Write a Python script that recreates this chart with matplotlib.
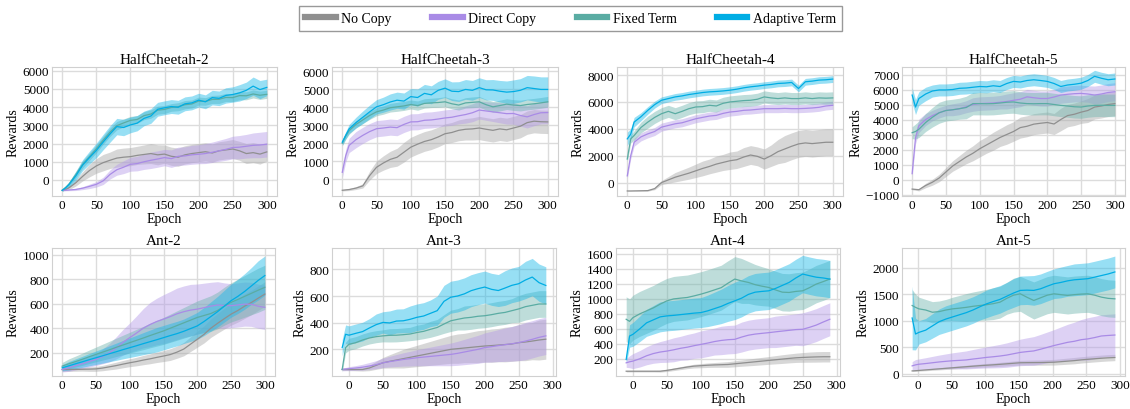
import matplotlib
matplotlib.use("Agg")
import matplotlib.pyplot as plt
from matplotlib.lines import Line2D
import numpy as np

plt.rcParams['font.family'] = ['Liberation Serif', 'DejaVu Serif']

methods = ["No Copy", "Direct Copy", "Fixed Term", "Adaptive Term"]
colors = ["#8f8f8f", "#a98be6", "#5aaca3", "#00ade4"]
band_colors = ["#a8a8a8", "#b49ae8", "#6fb5ad", "#1ab8e8"]

epochs = [0, 5, 10, 20, 30, 40, 50, 60, 70, 80, 90, 100, 110, 120, 130, 140, 150,
          160, 170, 180, 190, 200, 210, 220, 230, 240, 250, 260, 270, 280, 290, 300]

titles = ["HalfCheetah-2", "HalfCheetah-3", "HalfCheetah-4", "HalfCheetah-5",
          "Ant-2", "Ant-3", "Ant-4", "Ant-5"]
epoch_offsets = [0, 0, 0, 0, 0, -10, -10, -8]

# mean curves, order: No Copy, Direct Copy, Fixed Term, Adaptive Term
hc2_mean = [
    [-570, -520, -430, -150, 200, 520, 770, 950, 1080, 1200, 1250, 1280, 1350, 1400, 1450, 1380,
     1420, 1300, 1250, 1380, 1450, 1500, 1550, 1480, 1600, 1650, 1700, 1600, 1450, 1500, 1420, 1540],
    [-570, -565, -550, -520, -450, -350, -240, -50, 300, 560, 700, 860, 900, 1000, 1080, 1150,
     1230, 1170, 1300, 1320, 1380, 1410, 1450, 1520, 1600, 1680, 1780, 1800, 1850, 1900, 1920, 1960],
    [-570, -410, -230, 290, 860, 1280, 1710, 2180, 2620, 2980, 3130, 3270, 3320, 3530, 3620, 3830,
     3870, 3980, 4020, 4130, 4170, 4330, 4310, 4420, 4430, 4530, 4520, 4630, 4620, 4720, 4650, 4700],
    [-570, -430, -250, 230, 820, 1230, 1620, 2080, 2520, 2930, 2880, 3020, 3120, 3380, 3510, 3880,
     3960, 4030, 3990, 4180, 4230, 4380, 4290, 4520, 4480, 4640, 4690, 4780, 4920, 5150, 4960, 5080],
]
hc2_std = [
    [30, 60, 100, 180, 250, 350, 400, 450, 450, 500, 500, 500, 500, 520, 550, 550,
     500, 500, 500, 500, 500, 500, 500, 500, 500, 500, 520, 520, 550, 550, 550, 500],
    [20, 30, 40, 60, 80, 120, 150, 200, 250, 300, 350, 380, 400, 420, 450, 450,
     450, 480, 500, 500, 520, 520, 550, 560, 580, 600, 620, 640, 650, 680, 700, 700],
    [50, 80, 120, 180, 200, 200, 220, 220, 230, 230, 220, 220, 210, 220, 230, 220,
     220, 210, 220, 230, 220, 220, 210, 220, 230, 220, 220, 230, 220, 220, 230, 220],
    [60, 100, 150, 250, 300, 350, 400, 420, 450, 450, 450, 430, 420, 400, 400, 380,
     380, 380, 380, 380, 380, 380, 380, 400, 400, 420, 420, 450, 450, 500, 500, 450],
]

hc3_mean = [
    [-620, -600, -580, -500, -375, 200, 660, 900, 1100, 1220, 1500, 1780, 1950, 2100, 2200, 2350,
     2530, 2600, 2720, 2780, 2800, 2850, 2780, 2720, 2800, 2750, 2850, 2950, 3150, 3230, 3200, 3190],
    [380, 1300, 1880, 2200, 2440, 2650, 2810, 2850, 2900, 2870, 3050, 3190, 3200, 3280, 3300, 3350,
     3410, 3450, 3530, 3600, 3700, 3850, 3800, 3750, 3700, 3650, 3660, 3550, 3470, 3600, 3700, 3710],
    [2000, 2400, 2700, 3050, 3300, 3550, 3750, 3850, 3980, 4030, 4080, 4160, 4100, 4220, 4250, 4270,
     4310, 4200, 4130, 4250, 4280, 4310, 4150, 4030, 4100, 4180, 4130, 4100, 4160, 4200, 4250, 4310],
    [2060, 2440, 2800, 3150, 3450, 3750, 4030, 4150, 4300, 4400, 4350, 4600, 4550, 4780, 4700, 4950,
     5070, 4900, 4880, 5000, 4950, 5100, 4980, 4970, 4900, 4850, 4880, 4950, 5100, 5050, 5000, 5000],
]
hc3_std = [
    [40, 50, 60, 80, 120, 250, 350, 400, 450, 500, 550, 550, 550, 550, 550, 550,
     550, 560, 580, 600, 620, 650, 650, 650, 650, 650, 650, 650, 650, 650, 650, 650],
    [300, 350, 400, 450, 450, 450, 450, 450, 450, 450, 450, 450, 450, 450, 450, 450,
     450, 450, 450, 480, 500, 500, 520, 540, 560, 580, 600, 600, 620, 620, 620, 620],
    [150, 180, 200, 200, 200, 220, 220, 230, 240, 250, 250, 250, 260, 260, 260, 270,
     280, 280, 280, 290, 300, 300, 300, 300, 300, 300, 300, 300, 300, 300, 300, 300],
    [150, 200, 250, 300, 350, 380, 400, 420, 450, 450, 450, 450, 480, 500, 500, 500,
     520, 520, 550, 550, 550, 550, 560, 580, 600, 620, 650, 650, 680, 700, 700, 700],
]

hc4_mean = [
    [-625, -625, -620, -610, -600, -450, 0, 200, 400, 550, 700, 875, 1050, 1200, 1375, 1500,
     1625, 1700, 1900, 2050, 1950, 1750, 2000, 2300, 2500, 2700, 2875, 2950, 2900, 2950, 3000, 3000],
    [500, 2000, 3000, 3400, 3625, 3800, 4125, 4250, 4375, 4450, 4600, 4750, 4850, 4950, 5000, 5150,
     5250, 5300, 5375, 5400, 5450, 5500, 5500, 5500, 5520, 5500, 5500, 5520, 5550, 5600, 5700, 5750],
    [1750, 3250, 3500, 4100, 4500, 4850, 5125, 5300, 5125, 5300, 5500, 5625, 5650, 5750, 5700, 5900,
     6000, 6050, 6100, 6125, 6200, 6375, 6300, 6250, 6300, 6250, 6250, 6300, 6250, 6300, 6280, 6300],
    [3250, 3600, 4500, 4900, 5375, 5800, 6125, 6250, 6375, 6450, 6550, 6625, 6700, 6750, 6780, 6820,
     6875, 6950, 7050, 7125, 7180, 7250, 7300, 7375, 7400, 7450, 7000, 7500, 7550, 7625, 7650, 7700],
]
hc4_std = [
    [20, 20, 20, 30, 40, 80, 150, 250, 350, 400, 450, 500, 550, 550, 600, 600,
     650, 650, 700, 700, 700, 750, 800, 900, 1000, 1000, 1000, 1000, 1000, 1000, 1000, 1000],
    [200, 250, 300, 300, 300, 300, 300, 300, 300, 300, 300, 300, 300, 300, 300, 300,
     300, 300, 300, 300, 300, 300, 300, 300, 300, 300, 300, 300, 300, 300, 300, 300],
    [200, 300, 350, 400, 450, 450, 450, 450, 450, 450, 450, 450, 450, 450, 450, 450,
     450, 450, 450, 450, 450, 450, 450, 450, 450, 450, 450, 450, 450, 450, 450, 450],
    [500, 400, 350, 300, 280, 260, 250, 250, 250, 250, 250, 250, 250, 250, 250, 250,
     250, 250, 250, 250, 250, 250, 250, 250, 250, 250, 250, 250, 250, 250, 250, 250],
]

hc5_mean = [
    [-640, -660, -680, -400, -180, 100, 500, 900, 1200, 1500, 1750, 2050, 2300, 2550, 2800, 3000,
     3200, 3460, 3550, 3690, 3750, 3800, 3700, 4000, 4260, 4350, 4490, 4600, 4830, 4900, 5000, 5060],
    [390, 2780, 3580, 4000, 4260, 4450, 4600, 4650, 4720, 4850, 5000, 5060, 5080, 5100, 5150, 5200,
     5280, 5350, 5510, 5450, 5400, 5400, 5500, 5630, 5680, 5720, 5740, 5700, 5630, 5700, 5800, 5850],
    [3120, 3200, 3350, 3800, 4150, 4450, 4600, 4650, 4720, 4800, 5060, 5060, 5050, 5060, 5100, 5150,
     5170, 5100, 5060, 5050, 5060, 5060, 5000, 4940, 4900, 4850, 4830, 4900, 4940, 4950, 4940, 4940],
    [5630, 4830, 5400, 5700, 5900, 5970, 5970, 6000, 6080, 6100, 6150, 6200, 6180, 6250, 6200, 6400,
     6540, 6500, 6600, 6650, 6600, 6540, 6400, 6200, 6300, 6350, 6420, 6600, 6880, 6750, 6650, 6700],
]
hc5_std = [
    [50, 60, 80, 150, 200, 250, 300, 350, 400, 450, 500, 550, 550, 600, 600, 650,
     650, 700, 700, 700, 700, 700, 700, 750, 750, 750, 750, 800, 800, 800, 800, 800],
    [200, 400, 450, 400, 350, 350, 350, 400, 400, 400, 450, 450, 450, 450, 450, 500,
     500, 500, 500, 500, 500, 500, 500, 550, 550, 550, 550, 550, 600, 600, 600, 600],
    [400, 500, 550, 600, 650, 700, 700, 700, 700, 750, 750, 750, 750, 750, 750, 750,
     750, 750, 750, 750, 750, 750, 750, 750, 750, 750, 750, 750, 750, 750, 750, 750],
    [500, 500, 450, 450, 400, 400, 400, 400, 400, 400, 400, 400, 400, 400, 400, 400,
     400, 400, 400, 400, 400, 400, 400, 400, 400, 400, 400, 400, 400, 400, 400, 400],
]

ant2_mean = [
    [63, 63, 63, 64, 65, 66, 68, 75, 85, 95, 107, 118, 128, 140, 150, 162,
     173, 185, 205, 230, 270, 310, 350, 400, 440, 478, 515, 545, 580, 610, 645, 679],
    [63, 70, 78, 95, 110, 128, 145, 170, 200, 240, 285, 323, 360, 400, 430, 455,
     474, 495, 518, 535, 548, 556, 568, 580, 590, 585, 584, 590, 597, 595, 580, 570],
    [90, 100, 110, 128, 147, 167, 186, 205, 224, 244, 263, 282, 301, 320, 340, 359,
     378, 400, 422, 444, 466, 488, 504, 520, 545, 580, 611, 635, 660, 685, 710, 734],
    [77, 85, 93, 110, 126, 143, 159, 175, 192, 208, 225, 241, 257, 274, 290, 306,
     323, 340, 356, 375, 397, 419, 455, 495, 535, 580, 625, 660, 700, 745, 790, 830],
]
ant2_std = [
    [15, 15, 15, 15, 15, 18, 20, 22, 25, 28, 30, 32, 35, 38, 40, 42,
     45, 48, 50, 55, 60, 65, 70, 75, 80, 85, 90, 95, 100, 100, 100, 100],
    [20, 25, 30, 35, 40, 45, 50, 60, 75, 90, 105, 120, 140, 160, 180, 190,
     200, 205, 210, 210, 210, 205, 200, 195, 190, 185, 180, 180, 180, 180, 180, 180],
    [30, 35, 40, 45, 50, 55, 60, 65, 70, 75, 80, 85, 90, 95, 100, 105,
     110, 115, 120, 125, 130, 135, 140, 145, 150, 155, 160, 165, 170, 175, 180, 180],
    [25, 30, 35, 40, 45, 50, 55, 60, 65, 70, 75, 80, 85, 90, 95, 100,
     100, 100, 100, 100, 105, 110, 115, 120, 125, 130, 135, 140, 145, 150, 160, 160],
]

ant3_mean = [
    [49, 49, 49, 49, 49, 60, 80, 99, 110, 120, 130, 140, 150, 160, 170, 180,
     190, 200, 205, 210, 215, 220, 225, 228, 232, 236, 240, 250, 255, 262, 270, 276],
    [49, 52, 55, 60, 66, 75, 85, 99, 108, 116, 124, 130, 137, 142, 147, 152,
     157, 162, 170, 180, 190, 200, 213, 220, 228, 235, 242, 250, 262, 275, 290, 301],
    [49, 213, 238, 250, 270, 285, 295, 301, 305, 306, 310, 315, 326, 335, 350, 364,
     390, 414, 425, 435, 440, 448, 452, 460, 470, 477, 490, 503, 520, 530, 540, 540],
    [213, 313, 306, 320, 333, 360, 385, 402, 398, 412, 414, 425, 440, 450, 470, 490,
     560, 591, 600, 616, 640, 655, 667, 650, 641, 660, 680, 692, 720, 742, 700, 679],
]
ant3_std = [
    [8, 8, 8, 10, 12, 20, 30, 40, 50, 60, 70, 75, 80, 85, 90, 95,
     100, 105, 110, 110, 115, 120, 120, 125, 125, 130, 130, 135, 140, 140, 150, 150],
    [10, 12, 15, 18, 22, 26, 30, 35, 40, 45, 50, 55, 60, 65, 70, 75,
     80, 85, 90, 95, 100, 105, 110, 115, 120, 125, 130, 135, 140, 140, 140, 140],
    [20, 40, 45, 45, 45, 45, 45, 45, 50, 50, 50, 50, 55, 55, 60, 60,
     70, 80, 80, 90, 90, 90, 90, 90, 90, 90, 90, 100, 100, 100, 100, 100],
    [60, 70, 70, 70, 70, 70, 80, 80, 90, 90, 90, 100, 100, 100, 100, 110,
     120, 120, 120, 120, 120, 120, 120, 120, 120, 130, 130, 130, 140, 140, 140, 140],
]

ant4_mean = [
    [34, 34, 34, 34, 34, 34, 34, 45, 60, 75, 90, 102, 108, 114, 118, 121,
     124, 133, 142, 151, 160, 169, 178, 187, 196, 205, 213, 218, 222, 225, 227, 227],
    [146, 160, 169, 200, 240, 270, 290, 303, 320, 340, 355, 375, 392, 410, 430, 445,
     455, 460, 490, 515, 530, 540, 549, 560, 570, 580, 590, 594, 620, 650, 690, 728],
    [728, 700, 750, 800, 840, 880, 930, 974, 1000, 1010, 1019, 1040, 1063, 1090, 1120, 1150,
     1210, 1265, 1240, 1220, 1190, 1170, 1153, 1120, 1090, 1086, 1100, 1108, 1150, 1198, 1230, 1265],
    [191, 504, 527, 600, 680, 720, 760, 773, 780, 790, 800, 810, 817, 840, 870, 900,
     940, 974, 1010, 1060, 1090, 1100, 1108, 1140, 1180, 1220, 1280, 1332, 1310, 1290, 1280, 1265],
]
ant4_std = [
    [10, 10, 10, 10, 10, 10, 12, 15, 18, 20, 22, 25, 28, 30, 32, 35,
     38, 40, 42, 45, 48, 50, 52, 55, 58, 60, 62, 65, 68, 70, 70, 70],
    [60, 80, 100, 110, 120, 130, 140, 150, 160, 160, 170, 170, 180, 180, 180, 190,
     190, 190, 200, 200, 200, 200, 200, 210, 210, 210, 210, 220, 220, 220, 220, 220],
    [300, 300, 300, 300, 300, 300, 300, 300, 300, 300, 300, 300, 300, 300, 300, 300,
     300, 300, 300, 280, 270, 260, 250, 250, 250, 250, 250, 250, 250, 250, 250, 250],
    [50, 150, 160, 170, 180, 190, 200, 200, 200, 200, 200, 200, 200, 210, 220, 230,
     240, 250, 250, 250, 250, 250, 250, 250, 250, 250, 250, 250, 250, 250, 250, 250],
]

ant5_mean = [
    [51, 55, 60, 70, 80, 90, 100, 110, 120, 130, 140, 150, 158, 166, 175, 185,
     195, 205, 207, 208, 209, 212, 215, 225, 235, 245, 259, 270, 280, 290, 298, 304],
    [146, 165, 177, 190, 205, 220, 232, 243, 250, 258, 275, 290, 306, 318, 332, 350,
     375, 400, 415, 428, 460, 495, 530, 560, 590, 610, 640, 655, 680, 710, 720, 728],
    [1285, 1250, 1222, 1200, 1158, 1170, 1200, 1222, 1235, 1250, 1270, 1285, 1300, 1320, 1348, 1420,
     1480, 1506, 1440, 1380, 1430, 1480, 1506, 1490, 1475, 1490, 1500, 1506, 1480, 1443, 1420, 1411],
    [1050, 747, 778, 820, 900, 980, 1030, 1070, 1110, 1150, 1200, 1260, 1316, 1360, 1400, 1460,
     1520, 1570, 1575, 1570, 1600, 1650, 1696, 1720, 1750, 1770, 1780, 1791, 1820, 1850, 1880, 1918],
]
ant5_std = [
    [10, 12, 14, 16, 18, 20, 22, 24, 26, 28, 30, 32, 34, 36, 38, 40,
     42, 44, 46, 48, 50, 52, 54, 56, 58, 60, 60, 60, 60, 60, 60, 60],
    [80, 100, 100, 110, 120, 130, 140, 150, 160, 170, 180, 190, 200, 210, 220, 230,
     240, 250, 260, 270, 280, 290, 300, 320, 340, 360, 380, 400, 400, 400, 400, 400],
    [300, 250, 220, 200, 200, 200, 200, 220, 240, 260, 270, 280, 290, 300, 300, 300,
     320, 330, 340, 350, 350, 350, 350, 350, 350, 350, 350, 350, 350, 350, 350, 350],
    [600, 300, 220, 220, 230, 240, 250, 250, 250, 250, 250, 250, 260, 260, 260, 260,
     270, 270, 270, 280, 280, 280, 280, 290, 290, 300, 300, 300, 300, 300, 300, 300],
]

all_means = [hc2_mean, hc3_mean, hc4_mean, hc5_mean, ant2_mean, ant3_mean, ant4_mean, ant5_mean]
all_stds = [hc2_std, hc3_std, hc4_std, hc5_std, ant2_std, ant3_std, ant4_std, ant5_std]

y_ticks = [
    [0, 1000, 2000, 3000, 4000, 5000, 6000],
    [0, 1000, 2000, 3000, 4000, 5000, 6000],
    [0, 2000, 4000, 6000, 8000],
    [-1000, 0, 1000, 2000, 3000, 4000, 5000, 6000, 7000],
    [200, 400, 600, 800, 1000],
    [200, 400, 600, 800],
    [200, 400, 600, 800, 1000, 1200, 1400, 1600],
    [0, 500, 1000, 1500, 2000],
]
y_limits = [(-880, 6200), (-940, 6250), (-1000, 8600), (-1100, 7500),
            (10, 1055), (0, 960), (-30, 1680), (-45, 2370)]
x_ticks = [0, 50, 100, 150, 200, 250, 300]

fig = plt.figure(figsize=(11.3, 4.1), dpi=100)

# axes boxes in pixels (left, right) per column, (top, bottom) per row
col_px = [[(52, 277), (332, 558), (617, 843), (902, 1125)],
          [(52, 275), (332, 556), (616, 840), (902, 1125)]]
row_px = [(68, 197), (249, 377)]
W, H = 1130, 410

for i in range(8):
    r, c = divmod(i, 4)
    x0, x1 = col_px[r][c]
    t0, b0 = row_px[r]
    ax = fig.add_axes([x0 / W, 1 - b0 / H, (x1 - x0) / W, (b0 - t0) / H])
    x = np.array(epochs) + epoch_offsets[i]
    for k in range(4):
        m = np.array(all_means[i][k], dtype=float)
        s = np.array(all_stds[i][k], dtype=float)
        ax.fill_between(x, m - s, m + s, color=band_colors[k], alpha=0.45, lw=0)
        ax.plot(x, m, color=colors[k], lw=0.9)
    ax.set_ylim(*y_limits[i])
    ax.set_xlim(min(x) - 0.05 * (max(x) - min(x)), max(x) + 0.05 * (max(x) - min(x)))
    ax.set_xticks(x_ticks)
    ax.set_yticks(y_ticks[i])
    ax.grid(True, color="#dcdcdc", lw=1.0)
    ax.set_axisbelow(True)
    for sp in ax.spines.values():
        sp.set_color("#d0d0d0")
    ax.tick_params(length=0, labelsize=9.5, pad=2)
    ax.set_title(titles[i], fontsize=11, pad=3)
    ax.set_xlabel("Epoch", fontsize=10, labelpad=1)
    ax.set_ylabel("Rewards", fontsize=10, labelpad=2)

handles = [Line2D([0], [0], color=col, lw=4.5) for col in colors]
leg = fig.legend(handles, methods, loc="center", bbox_to_anchor=(0.505, 0.952), ncol=4,
                 fontsize=10, frameon=True, fancybox=False, edgecolor="#808080",
                 handlelength=2.2, handletextpad=0.4, columnspacing=2.9, borderpad=0.45)
leg.get_frame().set_linewidth(1.0)

fig.savefig("out.png", dpi=100)
